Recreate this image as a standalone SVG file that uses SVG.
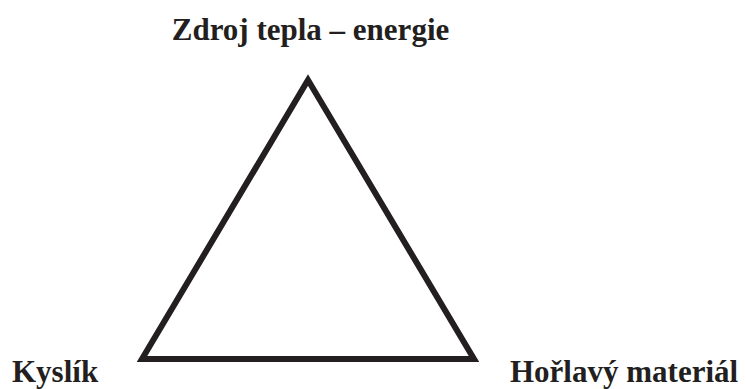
<svg xmlns="http://www.w3.org/2000/svg" width="746" height="389" viewBox="0 0 746 389">
<style>
.lbl{font-family:"Liberation Serif","Times New Roman",serif;font-weight:bold;font-size:31px;fill:#231f20}
.tri{fill:none;stroke:#231f20;stroke-width:6;stroke-linejoin:miter;stroke-miterlimit:10}
</style>
<rect width="746" height="389" fill="#ffffff"/>
<g id="triangle">
<polygon class="tri" points="308,80 142,359 474,359"/>
</g>
<g id="node-top">
<text class="lbl" x="310.5" y="40" text-anchor="middle" font-size="31.8">Zdroj tepla – energie</text>
</g>
<g id="node-left">
<text class="lbl" x="12" y="382">Kyslík</text>
</g>
<g id="node-right">
<text class="lbl" x="510" y="382">Hořlavý materiál</text>
</g>
</svg>
